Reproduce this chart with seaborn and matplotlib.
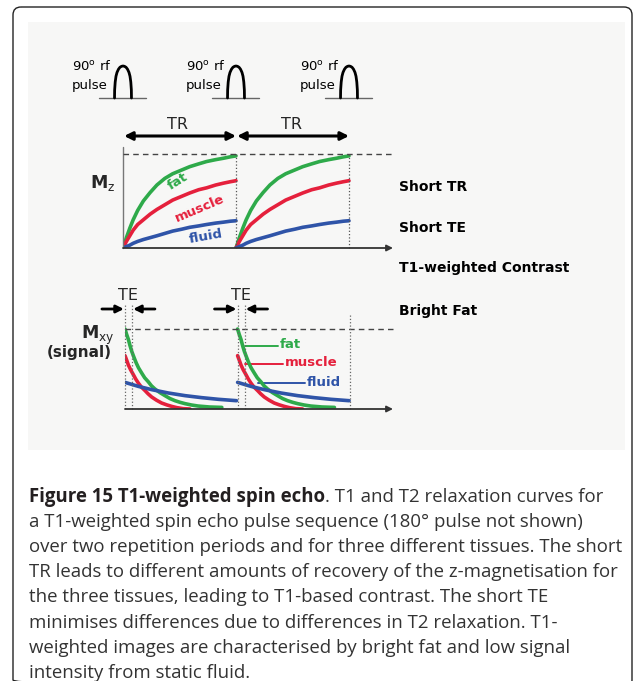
import matplotlib
matplotlib.use("Agg")
import numpy as np
import pandas as pd
import matplotlib.pyplot as plt
import seaborn as sns
from matplotlib.patches import FancyBboxPatch, Rectangle

# values (time in units of TR, signal normalised to 1)
tissues = ["fat", "muscle", "fluid"]
colors = {"fat": "#2eaa4a", "muscle": "#e5203c", "fluid": "#2f54a8"}
periods = [0, 1]

# T1 recovery of Mz within one TR
recovery_t = [0, 0.03, 0.06, 0.09, 0.13, 0.18, 0.24, 0.30, 0.37, 0.44, 0.52, 0.59, 0.67, 0.74, 0.82, 0.89, 0.95, 1.0]
fat_mz = [0, 0.11, 0.21, 0.30, 0.40, 0.50, 0.59, 0.67, 0.74, 0.79, 0.83, 0.865, 0.895, 0.92, 0.94, 0.955, 0.97, 0.98]
muscle_mz = [0, 0.07, 0.13, 0.19, 0.25, 0.30, 0.36, 0.41, 0.46, 0.51, 0.55, 0.585, 0.62, 0.64, 0.67, 0.69, 0.705, 0.716]
fluid_mz = [0, 0.015, 0.03, 0.05, 0.07, 0.09, 0.11, 0.13, 0.155, 0.18, 0.20, 0.22, 0.235, 0.25, 0.265, 0.275, 0.285, 0.29]

# T2 decay of Mxy within one TR
fat_t = [0, 0.015, 0.03, 0.045, 0.06, 0.08, 0.10, 0.12, 0.148, 0.175, 0.207, 0.235, 0.266, 0.31,
         0.355, 0.40, 0.444, 0.49, 0.533, 0.59, 0.65, 0.75, 0.86]
fat_mxy = [1.0, 0.93, 0.87, 0.79, 0.72, 0.645, 0.575, 0.515, 0.45, 0.39, 0.34, 0.29, 0.25, 0.205,
           0.167, 0.13, 0.104, 0.083, 0.067, 0.05, 0.037, 0.025, 0.02]
muscle_t = [0, 0.015, 0.03, 0.05, 0.074, 0.095, 0.118, 0.145, 0.178, 0.205, 0.237, 0.28, 0.325,
            0.37, 0.414, 0.46, 0.518, 0.577]
muscle_mxy = [0.667, 0.61, 0.55, 0.49, 0.43, 0.375, 0.325, 0.275, 0.23, 0.19, 0.15, 0.11, 0.075,
              0.052, 0.033, 0.017, 0.004, 0.0]
fluid_t = [0, 0.118, 0.237, 0.385, 0.533, 0.68, 0.83, 0.99]
fluid_mxy = [0.333, 0.283, 0.242, 0.2, 0.167, 0.142, 0.121, 0.104]

# 90 degree rf pulse shape (offset in TR, relative height)
pulse_times = [0, 1, 2]
pulse_dx = [-0.075, -0.074, -0.069, -0.062, -0.053, -0.04, -0.027, -0.013, 0, 0.013, 0.027, 0.04, 0.053, 0.062, 0.069, 0.074, 0.075]
pulse_h = [0, 0.25, 0.5, 0.68, 0.8, 0.9, 0.96, 0.99, 1, 0.99, 0.96, 0.9, 0.8, 0.68, 0.5, 0.25, 0]

side_labels = ["Short TR", "Short TE", "T1-weighted Contrast", "Bright Fat"]
caption_bold = "Figure 15 T1-weighted spin echo"
caption_lines = [
    ". T1 and T2 relaxation curves for",
    "a T1-weighted spin echo pulse sequence (180\u00b0 pulse not shown)",
    "over two repetition periods and for three different tissues. The short",
    "TR leads to different amounts of recovery of the z-magnetisation for",
    "the three tissues, leading to T1-based contrast. The short TE",
    "minimises differences due to differences in T2 relaxation. T1-",
    "weighted images are characterised by bright fat and low signal",
    "intensity from static fluid.",
]

# long-form tables
mz_rows, mxy_rows, pulse_rows = [], [], []
mz_vals = {"fat": fat_mz, "muscle": muscle_mz, "fluid": fluid_mz}
mxy_vals = {"fat": (fat_t, fat_mxy), "muscle": (muscle_t, muscle_mxy), "fluid": (fluid_t, fluid_mxy)}
for p in periods:
    for tis in tissues:
        for t, v in zip(recovery_t, mz_vals[tis]):
            mz_rows.append({"t": p + t, "v": v, "tissue": tis, "period": p})
        for t, v in zip(*mxy_vals[tis]):
            mxy_rows.append({"t": p + t, "v": v, "tissue": tis, "period": p})
for i, c in enumerate(pulse_times):
    for dx, h in zip(pulse_dx, pulse_h):
        pulse_rows.append({"t": c + dx, "v": h, "pulse": i})
mz_df = pd.DataFrame(mz_rows)
mxy_df = pd.DataFrame(mxy_rows)
pulse_df = pd.DataFrame(pulse_rows)

sns.set_theme(style="white")
plt.rcParams["font.family"] = ["DejaVu Sans"]

W, H = 634, 681
fig = plt.figure(figsize=(W / 100, H / 100), dpi=100)
fig.patch.set_facecolor("white")

canvas = fig.add_axes([0, 0, 1, 1])
canvas.set_xlim(0, W)
canvas.set_ylim(H, 0)
canvas.axis("off")

canvas.add_patch(FancyBboxPatch((13, 7), 619, 681, boxstyle="round,pad=0,rounding_size=8",
                                fc="none", ec="#222222", lw=1.0))
canvas.add_patch(Rectangle((28, 22), 597, 428, fc="#f7f7f6", ec="none"))


def px_axes(x0, x1, y0, y1, xlim, ylim):
    ax = fig.add_axes([x0 / W, 1 - y1 / H, (x1 - x0) / W, (y1 - y0) / H])
    ax.set_xlim(*xlim)
    ax.set_ylim(*ylim)
    ax.axis("off")
    ax.patch.set_alpha(0)
    return ax


# ---- rf pulses
pax = px_axes(96, 393, 60, 100, ((96 - 123) / 113, (393 - 123) / 113), (-2 / 32, 38 / 32))
for c in pulse_times:
    pax.plot([c - 0.215, c + 0.2], [0, 0], color="#666666", lw=1.0)
sns.lineplot(data=pulse_df, x="t", y="v", units="pulse", estimator=None, sort=False,
             color="black", lw=2.0, ax=pax, legend=False)
pax.axis("off")
for x0 in [72, 186, 300]:
    canvas.text(x0, 66, r"90$^{\mathrm{o}}$ rf", fontsize=9.5, ha="left", va="center", color="black")
    canvas.text(x0, 86, "pulse", fontsize=9.5, ha="left", va="center", color="black")

# ---- Mz panel
mz_top = 101 / 94
axz = px_axes(123, 393, 147, 248, (0, 270 / 113), (0, mz_top))
sns.lineplot(data=mz_df, x="t", y="v", hue="tissue", units="period", estimator=None, sort=False,
             palette=colors, hue_order=tissues, lw=2.6, ax=axz, legend=False)
axz.axis("off")
xmax = 270 / 113
axz.plot([0, 0], [0, mz_top], color="#777777", lw=1.0, clip_on=False)
axz.annotate("", xy=(xmax, 0), xytext=(0, 0),
             arrowprops=dict(arrowstyle="-|>", color="#333333", lw=1.3, mutation_scale=9,
                             shrinkA=0, shrinkB=0))
axz.plot([0, xmax], [1, 1], color="#444444", lw=1.0, ls=(0, (4, 3)), clip_on=False)
for p in [1, 2]:
    axz.plot([p, p], [0, 1], color="#555555", lw=0.9, ls=":", clip_on=False)
tr_y = (248 - 136) / 94
for a, b in [(0.01, 1.0), (1.01, 2.0)]:
    axz.annotate("", xy=(b, tr_y), xytext=(a, tr_y), annotation_clip=False,
                 arrowprops=dict(arrowstyle="<|-|>", color="black", lw=2.2, mutation_scale=12,
                                 shrinkA=0, shrinkB=0))
for x in [0.48, 1.49]:
    axz.text(x, (248 - 125) / 94, "TR", fontsize=11.5, ha="center", va="center", clip_on=False)

canvas.text(90, 183, r"$\mathbf{M}_{\mathrm{z}}$", fontsize=12.5, ha="left", va="center")
canvas.text(178, 181, "fat", fontsize=9.5, fontweight="bold", color=colors["fat"],
            rotation=32, ha="center", va="center", rotation_mode="anchor")
canvas.text(200, 208, "muscle", fontsize=9.5, fontweight="bold", color=colors["muscle"],
            rotation=23, ha="center", va="center", rotation_mode="anchor")
canvas.text(206, 237, "fluid", fontsize=9.5, fontweight="bold", color=colors["fluid"],
            rotation=10, ha="center", va="center", rotation_mode="anchor")

# ---- Mxy panel
mxy_top = 119 / 80
xmax2 = 268 / 112.6
te = 7 / 112.6
axy = px_axes(125, 393, 290, 409, (0, xmax2), (0, mxy_top))
sns.lineplot(data=mxy_df, x="t", y="v", hue="tissue", units="period", estimator=None, sort=False,
             palette=colors, hue_order=tissues, lw=2.6, ax=axy, legend=False)
axy.axis("off")
axy.annotate("", xy=(xmax2, 0), xytext=(0, 0),
             arrowprops=dict(arrowstyle="-|>", color="#333333", lw=1.3, mutation_scale=9,
                             shrinkA=0, shrinkB=0))
axy.plot([0, xmax2], [1, 1], color="#444444", lw=1.0, ls=(0, (4, 3)), clip_on=False)
for x in [0, te, 1, 1 + te]:
    axy.plot([x, x], [0, (409 - 303) / 80], color="#666666", lw=0.9, ls=":", clip_on=False)
axy.plot([2, 2], [0, (409 - 313) / 80], color="#666666", lw=0.9, ls=":", clip_on=False)
te_y = (409 - 309) / 80
for p in [0, 1]:
    axy.annotate("", xy=(p - 0.01, te_y), xytext=(p - 0.205, te_y), annotation_clip=False,
                 arrowprops=dict(arrowstyle="-|>", color="black", lw=2.0, mutation_scale=11,
                                 shrinkA=0, shrinkB=0))
    axy.annotate("", xy=(p + te + 0.01, te_y), xytext=(p + 0.266, te_y), annotation_clip=False,
                 arrowprops=dict(arrowstyle="-|>", color="black", lw=2.0, mutation_scale=11,
                                 shrinkA=0, shrinkB=0))
    axy.text(p + 0.027, (409 - 295) / 80, "TE", fontsize=11.5, ha="center", va="center", clip_on=False)

canvas.text(114, 335, r"$\mathbf{M}_{\mathrm{xy}}$", fontsize=12.5, ha="right", va="center")
canvas.text(112, 352, "(signal)", fontsize=11, fontweight="bold", ha="right", va="center")
for tis, (x0, x1, y) in zip(tissues, [(245, 278, 346), (245, 283, 364), (258, 305, 383)]):
    canvas.plot([x0, x1], [y, y], color=colors[tis], lw=1.4)
    canvas.text(x1 + 2, y - 1, tis, fontsize=9.5, fontweight="bold", color=colors[tis],
                ha="left", va="center")

for lab, y in zip(side_labels, [187, 228, 268, 311]):
    canvas.text(399, y, lab, fontsize=10, fontweight="bold", ha="left", va="center", color="black")

# ---- caption
cap_font = ["Open Sans", "DejaVu Sans"]
renderer = fig.canvas.get_renderer()
probe = canvas.text(0, 0, caption_lines[3], fontsize=14, family=cap_font)
pw = probe.get_window_extent(renderer=renderer).width
probe.remove()
cap_size = 14 * 594 / pw
base0, step = 502, 25.1
tb = canvas.text(29, base0, caption_bold, fontsize=cap_size, family=cap_font, fontweight="bold",
                 ha="left", va="baseline", color="#231f20")
bw = tb.get_window_extent(renderer=renderer).width
canvas.text(29 + bw, base0, caption_lines[0], fontsize=cap_size, family=cap_font,
            ha="left", va="baseline", color="#333333")
for i, line in enumerate(caption_lines[1:], start=1):
    canvas.text(29, base0 + i * step, line, fontsize=cap_size, family=cap_font,
                ha="left", va="baseline", color="#333333")

fig.savefig("out.png", dpi=100)
